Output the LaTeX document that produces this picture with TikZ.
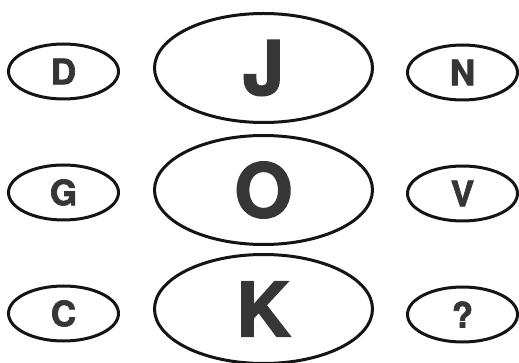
\documentclass[tikz,border=0pt]{standalone}
\usepackage{fontspec}
\setmainfont{TeX Gyre Heros}[BoldFeatures={FakeBold=2}]
\usetikzlibrary{shapes.geometric}
\definecolor{lettergray}{HTML}{363636}
\definecolor{rim}{HTML}{141414}
\begin{document}
\begin{tikzpicture}[x=1pt,y=-1pt,
  smallov/.style={ellipse, draw=rim, line width=3pt, minimum width=110pt, minimum height=55pt, inner sep=0pt,
    text=lettergray, font=\bfseries\fontsize{35}{35}\selectfont},
  bigov/.style={ellipse, draw=rim, line width=3pt, minimum width=218pt, minimum height=109pt, inner sep=0pt,
    text=lettergray, font=\bfseries\fontsize{75}{75}\selectfont}]
\useasboundingbox (0,0) rectangle (519,363);
\node[smallov] (d) at (63.5,71.5) {D};
\node[bigov]   (j) at (263.5,68) {J};
\node[smallov] (n) at (462.5,72.5) {N};
\node[smallov] (g) at (63.5,192.5) {G};
\node[bigov]   (o) at (263.5,190) {O};
\node[smallov] (v) at (462.5,193.5) {V};
\node[smallov] (c) at (63.5,313.5) {C};
\node[bigov]   (k) at (263.5,309) {K};
\node[smallov] (q) at (462.5,314.5) {?};
\end{tikzpicture}
\end{document}
